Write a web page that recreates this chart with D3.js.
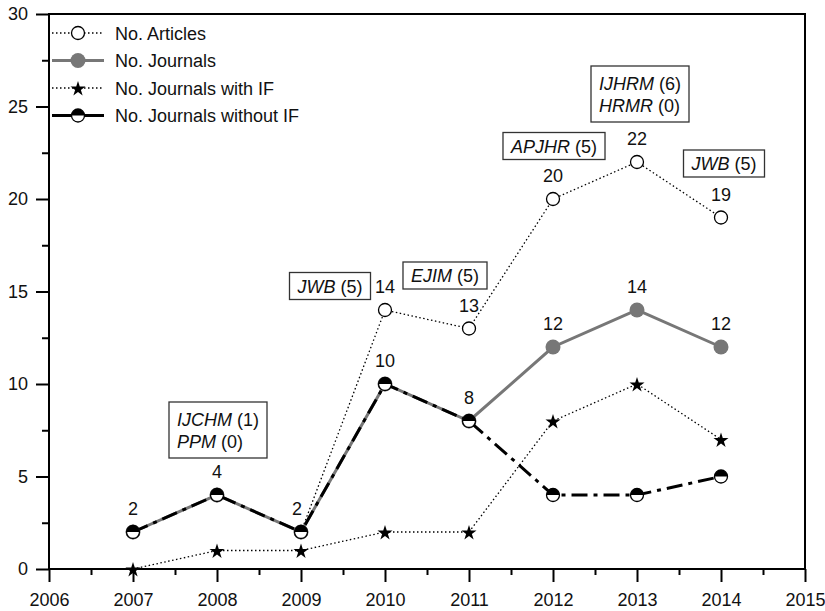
<!DOCTYPE html>
<html>
<head>
<meta charset="utf-8">
<script src="https://cdn.jsdelivr.net/npm/d3@7"></script>
<style>
  html, body { margin: 0; padding: 0; background: #fff; }
  svg { display: block; font-family: "Liberation Sans", Arial, Helvetica, sans-serif; }
</style>
</head>
<body>
<svg id="chart" width="825" height="611"></svg>
<script>
// ---- data ----
const years = [2007, 2008, 2009, 2010, 2011, 2012, 2013, 2014];
const articles = [2, 4, 2, 14, 13, 20, 22, 19];
const journals = [2, 4, 2, 10, 8, 12, 14, 12];
const journalsWithIF = [0, 1, 1, 2, 2, 8, 10, 7];
const journalsWithoutIF = [2, 4, 2, 10, 8, 4, 4, 5];
const xTickLabels = [2006, 2007, 2008, 2009, 2010, 2011, 2012, 2013, 2014, 2015];
const yTickLabels = [0, 5, 10, 15, 20, 25, 30];
const seriesNames = ["No. Articles", "No. Journals", "No. Journals with IF", "No. Journals without IF"];
const journalLabelYears = [2010, 2011, 2012, 2013, 2014];
const annoYears = [2008, 2010, 2011, 2012, 2013, 2014];
const annoJournals = [["IJCHM", "PPM"], ["JWB"], ["EJIM"], ["APJHR"], ["IJHRM", "HRMR"], ["JWB"]];
const annoCounts = [[1, 0], [5], [5], [5], [6, 0], [5]];

// ---- layout ----
const svg = d3.select("#chart");
const L = 49, R = 805, T = 14, B = 569;
const x = d3.scaleLinear().domain([2006, 2015]).range([L, R]);
const y = d3.scaleLinear().domain([0, 30]).range([B, T]);
const grey = "#777777";
const FS = 18;

// axes
const xAxis = d3.axisBottom(x).tickValues(xTickLabels).tickFormat(d3.format("d")).tickSize(13).tickPadding(11);
const xMinor = d3.axisBottom(x).tickValues(d3.range(2006.5, 2015, 1)).tickFormat("").tickSize(6);
const yAxis = d3.axisLeft(y).tickValues(yTickLabels).tickSize(13).tickPadding(8);
const yMinor = d3.axisLeft(y).tickValues(d3.range(2.5, 30, 5)).tickFormat("").tickSize(7);

function styleAxis(g) {
  g.select(".domain").remove();
  g.selectAll("line").attr("stroke", "#000").attr("stroke-width", 2);
  g.selectAll("text").attr("font-size", FS).attr("fill", "#111").attr("font-family", "Liberation Sans, Arial, sans-serif");
}
svg.append("g").attr("transform", `translate(0,${B})`).call(xAxis).call(styleAxis);
svg.append("g").attr("transform", `translate(0,${B})`).call(xMinor).call(styleAxis);
svg.append("g").attr("transform", `translate(${L},0)`).call(yAxis).call(styleAxis);
svg.append("g").attr("transform", `translate(${L},0)`).call(yMinor).call(styleAxis);

svg.append("rect").attr("x", L).attr("y", T).attr("width", R - L).attr("height", B - T)
  .attr("fill", "none").attr("stroke", "#000").attr("stroke-width", 2);

// series helpers
const line = d3.line().x(d => x(d[0])).y(d => y(d[1]));
const zip = vals => years.map((yr, i) => [yr, vals[i]]);

const star = d3.symbol().type(d3.symbolStar).size(70);

function openCircle(g, cx, cy) {
  g.append("circle").attr("cx", cx).attr("cy", cy).attr("r", 6.5)
    .attr("fill", "#fff").attr("stroke", "#000").attr("stroke-width", 1.3);
}
function greyCircle(g, cx, cy) {
  g.append("circle").attr("cx", cx).attr("cy", cy).attr("r", 7.5).attr("fill", grey);
}
function starMark(g, cx, cy) {
  g.append("path").attr("d", star()).attr("transform", `translate(${cx},${cy + 1})`).attr("fill", "#000");
}
function halfCircle(g, cx, cy) {
  const r = 6.5;
  g.append("circle").attr("cx", cx).attr("cy", cy).attr("r", r)
    .attr("fill", "#fff").attr("stroke", "#000").attr("stroke-width", 1.3);
  g.append("path")
    .attr("d", `M${cx - r},${cy} A${r},${r} 0 0 1 ${cx + r},${cy} Z`)
    .attr("fill", "#000");
}

const gPlot = svg.append("g");
// Articles
gPlot.append("path").datum(zip(articles)).attr("d", line)
  .attr("fill", "none").attr("stroke", "#000").attr("stroke-width", 1.3).attr("stroke-dasharray", "1.5,2.5");
// with IF
gPlot.append("path").datum(zip(journalsWithIF)).attr("d", line)
  .attr("fill", "none").attr("stroke", "#000").attr("stroke-width", 1.3).attr("stroke-dasharray", "1.5,2.5");
zip(articles).forEach(d => openCircle(gPlot, x(d[0]), y(d[1])));
zip(journalsWithIF).forEach(d => starMark(gPlot, x(d[0]), y(d[1])));
// Journals
gPlot.append("path").datum(zip(journals)).attr("d", line)
  .attr("fill", "none").attr("stroke", grey).attr("stroke-width", 3);
zip(journals).forEach(d => greyCircle(gPlot, x(d[0]), y(d[1])));
// without IF
gPlot.append("path").datum(zip(journalsWithoutIF)).attr("d", line)
  .attr("fill", "none").attr("stroke", "#000").attr("stroke-width", 3).attr("stroke-dasharray", "16,6,4,6");
zip(journalsWithoutIF).forEach(d => halfCircle(gPlot, x(d[0]), y(d[1])));

// value labels
const gLab = svg.append("g").attr("font-size", FS).attr("fill", "#111").attr("text-anchor", "middle");
years.forEach((yr, i) => {
  const dx = yr === 2009 ? -4 : 0;
  gLab.append("text").attr("x", x(yr) + dx).attr("y", y(articles[i]) - 17).text(articles[i]);
});
journalLabelYears.forEach(yr => {
  const i = years.indexOf(yr);
  gLab.append("text").attr("x", x(yr)).attr("y", y(journals[i]) - 17).text(journals[i]);
});

// annotation boxes (offsets from the article point)
const annoOffsets = { 2008: [1, -65], 2010: [-55, -24], 2011: [-24, -53], 2012: [1, -53], 2013: [3, -68], 2014: [3, -54] };
annoYears.forEach((yr, k) => {
  const i = years.indexOf(yr);
  const [dx, dy] = annoOffsets[yr];
  const cx = x(yr) + dx, cy = y(articles[i]) + dy;
  const g = svg.append("g");
  const lines = annoJournals[k];
  const lh = 22;
  lines.forEach((name, j) => {
    const ty = cy + (j - (lines.length - 1) / 2) * lh + 6.5;
    const tl = g.append("text").attr("font-size", FS).attr("fill", "#111").attr("y", ty).attr("class", "al");
    tl.append("tspan").attr("font-style", "italic").text(name);
    tl.append("tspan").text(" (" + annoCounts[k][j] + ")");
  });
  const texts = g.selectAll("text.al");
  let maxW = 0;
  texts.each(function() { maxW = Math.max(maxW, this.getComputedTextLength()); });
  const left = cx - maxW / 2;
  texts.attr("x", left);
  const padX = 8, h = lines.length === 1 ? 27 : 56;
  g.insert("rect", "text").attr("x", left - padX).attr("y", cy - h / 2).attr("width", maxW + 2 * padX).attr("height", h)
    .attr("fill", "#fff").attr("stroke", "#333").attr("stroke-width", 1.3);
});

// legend
const gLeg = svg.append("g");
const legY = [33, 60.5, 88, 115.5];
const lx0 = 52, lx1 = 104, lmx = 78, ltx = 115;
seriesNames.forEach((name, i) => {
  const yy = legY[i];
  const ln = gLeg.append("line").attr("x1", lx0).attr("x2", lx1).attr("y1", yy).attr("y2", yy).attr("stroke", "#000");
  if (i === 0 || i === 2) { ln.attr("stroke-width", 1.3).attr("stroke-dasharray", "1.5,2.5"); }
  if (i === 1) { ln.attr("stroke", grey).attr("stroke-width", 3); }
  if (i === 3) { ln.attr("stroke-width", 3); }
  if (i === 0) openCircle(gLeg, lmx, yy);
  if (i === 1) greyCircle(gLeg, lmx, yy);
  if (i === 2) starMark(gLeg, lmx, yy);
  if (i === 3) halfCircle(gLeg, lmx, yy);
  gLeg.append("text").attr("x", ltx).attr("y", yy + 6.5).attr("font-size", FS).attr("fill", "#111").text(name);
});
</script>
</body>
</html>
